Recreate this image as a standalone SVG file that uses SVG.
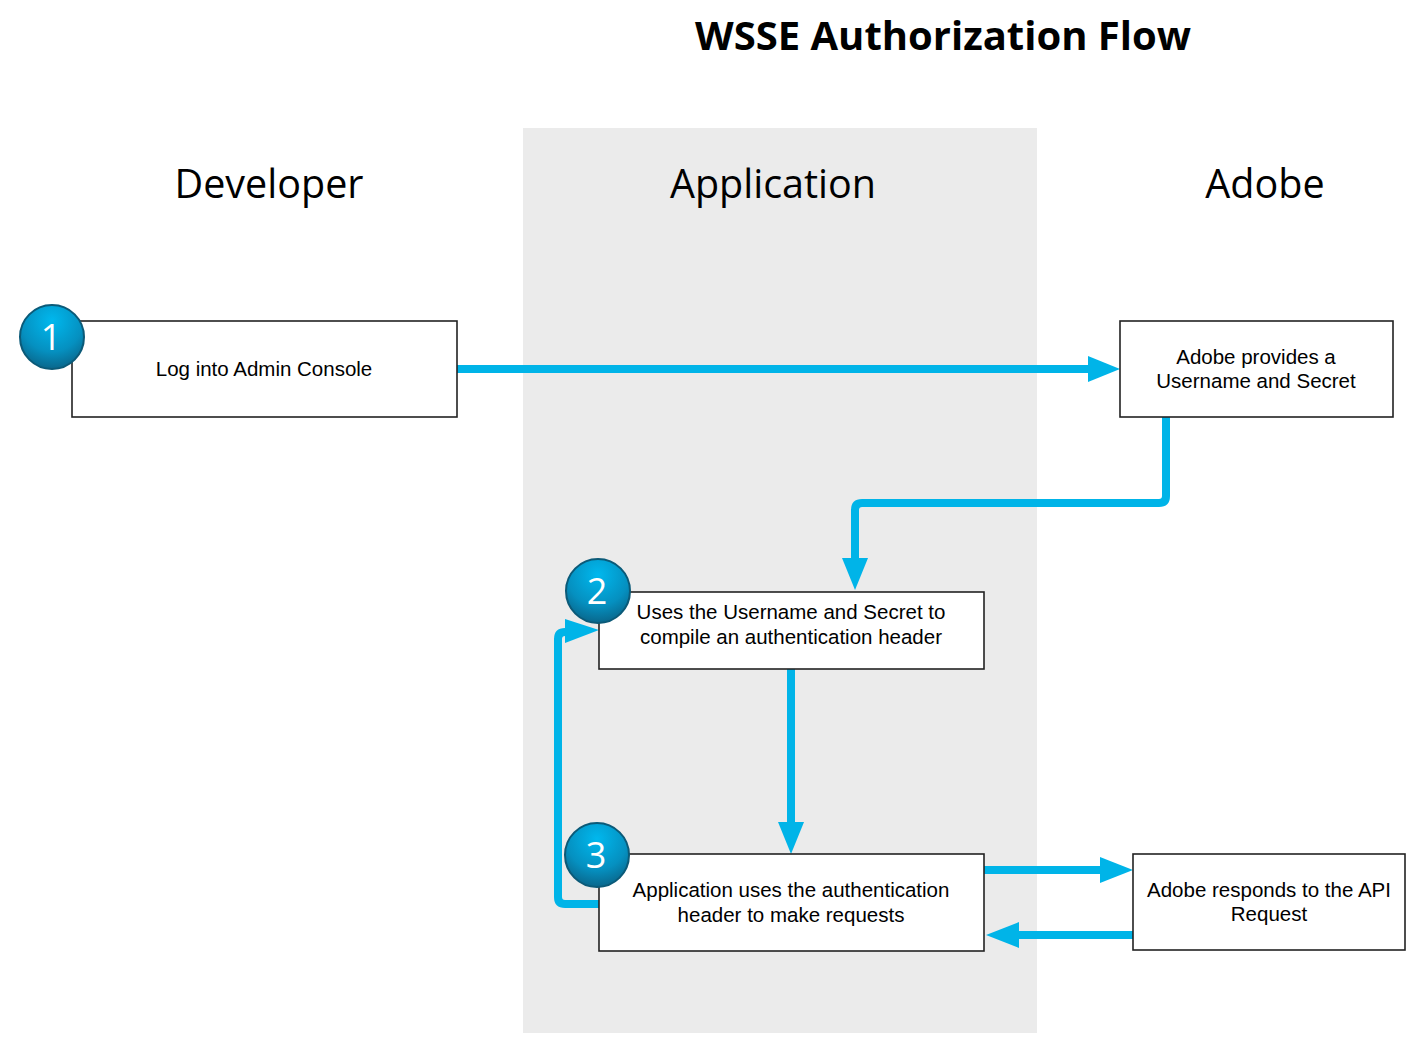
<svg xmlns="http://www.w3.org/2000/svg" width="1424" height="1050" viewBox="0 0 1424 1050">
<style>
.title{font-family:"Open Sans","Noto Sans",sans-serif;font-weight:bold;font-size:40px;fill:#000;text-anchor:middle}
.lane{font-family:"Open Sans","Noto Sans",sans-serif;font-size:39.5px;fill:#000;text-anchor:middle}
.box{fill:#fff;stroke:#222;stroke-width:1.6}
.txt{font-family:"Liberation Sans",Arial,sans-serif;font-size:20.5px;fill:#000;text-anchor:middle}
.num{font-family:"Open Sans","Noto Sans",sans-serif;font-size:36px;fill:#fff;text-anchor:middle}
.badge{fill:url(#bg);stroke:#0b5a78;stroke-width:2}
.conn{fill:none;stroke:#00b4e8;stroke-width:8;stroke-linejoin:round}
.head{fill:#00b4e8}
</style>
<defs>
<radialGradient id="bg" cx="0.5" cy="0.25" r="0.8">
<stop offset="0" stop-color="#00b8ee"/>
<stop offset="0.6" stop-color="#0590c0"/>
<stop offset="1" stop-color="#0a5f82"/>
</radialGradient>
</defs>
<rect width="1424" height="1050" fill="#fff"/>
<rect x="523" y="128" width="514" height="905" fill="#ebebeb"/>
<text class="title" x="943" y="50">WSSE Authorization Flow</text>
<text class="lane" x="269" y="198">Developer</text>
<text class="lane" x="773" y="198">Application</text>
<text class="lane" x="1265" y="198">Adobe</text>
<g id="connectors">
<path class="conn" d="M457,369 H1090"/>
<polygon class="head" points="1088,356 1120,369 1088,382"/>
<path class="conn" d="M1166,417 V496 Q1166,503 1159,503 H862 Q855,503 855,510 V560"/>
<polygon class="head" points="842,558 868,558 855,590"/>
<path class="conn" d="M791,669 V825"/>
<polygon class="head" points="778,822 804,822 791,854"/>
<path class="conn" d="M599,904 H565 Q558,904 558,897 V639 Q558,632 565,632 H570"/>
<polygon class="head" points="565,619 599,630 565,643"/>
<path class="conn" d="M984,870 H1103"/>
<polygon class="head" points="1100,857 1133,870 1100,883"/>
<path class="conn" d="M1133,935 H1015"/>
<polygon class="head" points="1019,922 986,935 1019,948"/>
</g>
<g id="node1">
<rect class="box" x="72" y="321" width="385" height="96"/>
<text class="txt" x="264" y="376">Log into Admin Console</text>
<circle class="badge" cx="52" cy="337" r="32"/>
<text class="num" x="51" y="350">1</text>
</g>
<g id="node-adobe1">
<rect class="box" x="1120" y="321" width="273" height="96"/>
<text class="txt" x="1256" y="364">Adobe provides a</text>
<text class="txt" x="1256" y="388">Username and Secret</text>
</g>
<g id="node2">
<rect class="box" x="599" y="592" width="385" height="77"/>
<text class="txt" x="791" y="619">Uses the Username and Secret to</text>
<text class="txt" x="791" y="644">compile an authentication header</text>
<circle class="badge" cx="598" cy="591" r="32"/>
<text class="num" x="597" y="604">2</text>
</g>
<g id="node3">
<rect class="box" x="599" y="854" width="385" height="97"/>
<text class="txt" x="791" y="897">Application uses the authentication</text>
<text class="txt" x="791" y="922">header to make requests</text>
<circle class="badge" cx="597" cy="855" r="32"/>
<text class="num" x="596" y="868">3</text>
</g>
<g id="node-adobe2">
<rect class="box" x="1133" y="854" width="272" height="96"/>
<text class="txt" x="1269" y="897">Adobe responds to the API</text>
<text class="txt" x="1269" y="921">Request</text>
</g>
</svg>
